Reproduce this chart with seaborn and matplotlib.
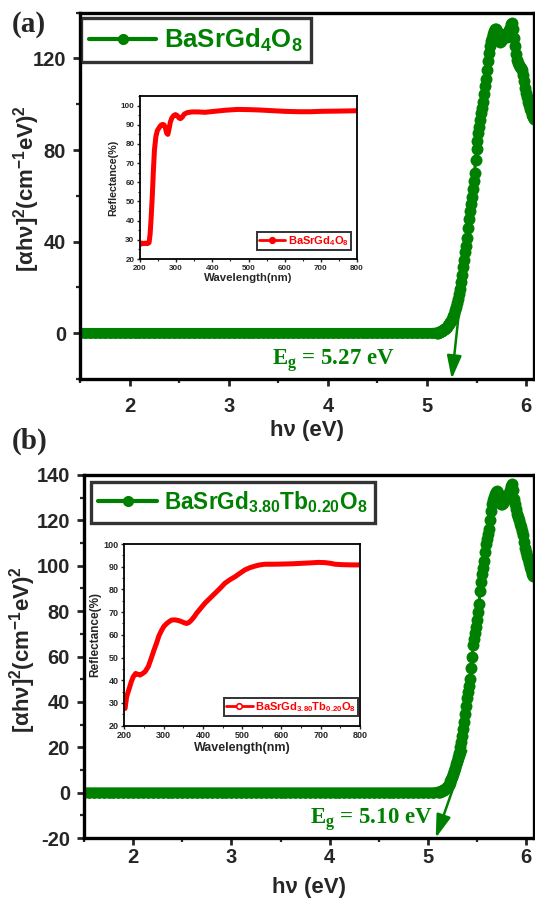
import matplotlib
matplotlib.use("Agg")
import matplotlib.pyplot as plt
from matplotlib.ticker import MultipleLocator
from matplotlib.lines import Line2D
import seaborn as sns
import pandas as pd

# ---------------- data ----------------
base_energy = [1.50, 1.55, 1.60, 1.65, 1.70, 1.75, 1.80, 1.85, 1.90, 1.95,
               2.00, 2.05, 2.10, 2.15, 2.20, 2.25, 2.30, 2.35, 2.40, 2.45,
               2.50, 2.55, 2.60, 2.65, 2.70, 2.75, 2.80, 2.85, 2.90, 2.95,
               3.00, 3.05, 3.10, 3.15, 3.20, 3.25, 3.30, 3.35, 3.40, 3.45,
               3.50, 3.55, 3.60, 3.65, 3.70, 3.75, 3.80, 3.85, 3.90, 3.95,
               4.00, 4.05, 4.10, 4.15, 4.20, 4.25, 4.30, 4.35, 4.40, 4.45,
               4.50, 4.55, 4.60, 4.65, 4.70, 4.75, 4.80, 4.85, 4.90, 4.95,
               5.00, 5.05, 5.10]
base_absorb = [0.0, 0.0, 0.0, 0.0, 0.0, 0.0, 0.0, 0.0, 0.0, 0.0,
               0.0, 0.0, 0.0, 0.0, 0.0, 0.0, 0.0, 0.0, 0.0, 0.0,
               0.0, 0.0, 0.0, 0.0, 0.0, 0.0, 0.0, 0.0, 0.0, 0.0,
               0.0, 0.0, 0.0, 0.0, 0.0, 0.0, 0.0, 0.0, 0.0, 0.0,
               0.0, 0.0, 0.0, 0.0, 0.0, 0.0, 0.0, 0.0, 0.0, 0.0,
               0.0, 0.0, 0.0, 0.0, 0.0, 0.0, 0.0, 0.0, 0.0, 0.0,
               0.0, 0.0, 0.0, 0.0, 0.0, 0.0, 0.0, 0.0, 0.0, 0.0,
               0.0, 0.0, 0.2]

rise_energy_a = [5.10, 5.11, 5.12, 5.13, 5.14, 5.15, 5.16, 5.17, 5.18, 5.19,
                 5.20, 5.21, 5.22, 5.23, 5.24, 5.25, 5.26, 5.27, 5.28, 5.29,
                 5.30, 5.31, 5.32, 5.33, 5.34, 5.35, 5.36, 5.37, 5.38, 5.39,
                 5.40, 5.41, 5.42, 5.43, 5.44, 5.45, 5.46, 5.47, 5.48, 5.49,
                 5.50, 5.51, 5.52, 5.53, 5.54, 5.55, 5.56, 5.57, 5.58, 5.59,
                 5.60, 5.61, 5.62, 5.63, 5.64, 5.65, 5.66, 5.67, 5.68, 5.69,
                 5.70, 5.71, 5.72, 5.73, 5.74, 5.75, 5.76, 5.77, 5.78, 5.79,
                 5.80, 5.81, 5.82, 5.83, 5.84, 5.85, 5.86, 5.87, 5.88, 5.89,
                 5.90, 5.91, 5.92, 5.93, 5.94, 5.95, 5.96, 5.97, 5.98, 5.99,
                 6.00, 6.01, 6.02, 6.03, 6.04, 6.05, 6.06, 6.07, 6.08]
rise_absorb_a = [0.2, 0.3, 0.5, 0.7, 0.9, 1.1, 1.4, 1.7, 2.0, 2.4,
                 2.9, 3.4, 4.0, 4.7, 5.5, 6.4, 7.4, 8.6, 10.0, 11.5,
                 13.2, 15.0, 17.0, 19.5, 22.5, 25.5, 29.0, 32.0, 35.5, 38.0,
                 41.5, 46.0, 50.0, 53.5, 56.5, 59.5, 63.0, 66.5, 70.0, 75.5,
                 80.5, 84.0, 87.5, 90.0, 93.0, 96.0, 98.5, 101.0, 104.5, 108.0,
                 111.0, 115.0, 119.0, 122.5, 125.5, 127.5, 129.0, 130.5, 132.0, 133.0,
                 133.0, 132.0, 129.5, 128.0, 127.0, 127.5, 128.5, 129.0, 130.0, 130.5,
                 130.0, 129.5, 131.0, 132.5, 133.5, 135.0, 135.5, 133.0, 129.0, 125.5,
                 122.0, 119.5, 118.0, 117.0, 116.5, 116.0, 115.0, 113.0, 110.0, 107.0,
                 105.0, 103.0, 101.0, 99.5, 98.0, 97.0, 95.5, 94.5, 93.5]

rise_energy_b = [5.10, 5.11, 5.12, 5.13, 5.14, 5.15, 5.16, 5.17, 5.18, 5.19,
                 5.20, 5.21, 5.22, 5.23, 5.24, 5.25, 5.26, 5.27, 5.28, 5.29,
                 5.30, 5.31, 5.32, 5.33, 5.34, 5.35, 5.36, 5.37, 5.38, 5.39,
                 5.40, 5.41, 5.42, 5.43, 5.44, 5.45, 5.46, 5.47, 5.48, 5.49,
                 5.50, 5.51, 5.52, 5.53, 5.54, 5.55, 5.56, 5.57, 5.58, 5.59,
                 5.60, 5.61, 5.62, 5.63, 5.64, 5.65, 5.66, 5.67, 5.68, 5.69,
                 5.70, 5.71, 5.72, 5.73, 5.74, 5.75, 5.76, 5.77, 5.78, 5.79,
                 5.80, 5.81, 5.82, 5.83, 5.84, 5.85, 5.86, 5.87, 5.88, 5.89,
                 5.90, 5.91, 5.92, 5.93, 5.94, 5.95, 5.96, 5.97, 5.98, 5.99,
                 6.00, 6.01, 6.02, 6.03, 6.04, 6.05, 6.06, 6.07]
rise_absorb_b = [0.2, 0.3, 0.4, 0.6, 0.8, 1.0, 1.3, 1.6, 2.0, 2.4,
                 2.9, 3.5, 4.2, 5.0, 6.0, 7.0, 8.2, 9.5, 11.0, 12.5,
                 14.0, 15.5, 17.5, 20.0, 22.5, 25.0, 28.0, 31.0, 34.5, 38.0,
                 41.5, 44.5, 47.0, 50.0, 55.0, 60.0, 65.0, 67.5, 70.5, 73.0,
                 76.0, 79.5, 83.0, 89.0, 93.0, 96.5, 99.0, 102.0, 106.0, 109.5,
                 112.0, 114.0, 116.0, 120.0, 124.0, 127.0, 129.0, 130.5, 131.5, 132.5,
                 133.0, 132.0, 130.0, 128.0, 127.0, 127.0, 127.5, 128.5, 129.5, 130.0,
                 130.5, 130.0, 131.0, 132.0, 133.5, 135.0, 136.0, 133.5, 129.5, 127.0,
                 125.0, 123.0, 121.5, 120.0, 118.5, 117.0, 115.5, 113.5, 110.5, 108.0,
                 106.0, 104.5, 103.0, 101.0, 99.5, 98.0, 96.5, 95.5]

wl_a = [200, 205, 210, 215, 220, 225, 228, 231, 234, 237, 240, 244, 248, 253,
        258, 263, 267, 270, 274, 277, 280, 284, 288, 293, 298, 303, 308, 312,
        317, 322, 330, 343, 360, 380, 400, 437, 470, 500, 531, 560, 600, 640,
        671, 700, 740, 770, 800]
refl_a = [27.5, 28.3, 28.0, 28.3, 28.0, 28.5, 33.0, 42.0, 53.0, 66.0, 77.0, 84.0,
          87.0, 88.5, 89.8, 90.2, 89.8, 88.5, 85.5, 85.0, 87.5, 91.5, 93.5, 94.8,
          95.3, 94.8, 93.5, 93.2, 94.0, 95.5, 96.3, 96.7, 96.7, 96.5, 96.9, 97.6,
          98.0, 97.9, 97.7, 97.4, 97.0, 96.8, 96.8, 97.0, 97.1, 97.2, 97.3]

wl_b = [202, 206, 210, 214, 218, 223, 229, 235, 240, 247, 253, 261, 270, 276,
        282, 288, 295, 301, 308, 314, 320, 327, 333, 340, 346, 353, 359, 365,
        371, 378, 384, 395, 405, 418, 431, 444, 456, 469, 482, 495, 507, 520,
        533, 545, 558, 580, 609, 630, 652, 675, 694, 711, 725, 736, 755, 779, 800]
refl_b = [27.6, 32.8, 35.0, 37.2, 39.5, 41.6, 43.0, 42.6, 42.3, 43.0, 43.8, 46.0,
          50.4, 53.5, 56.3, 59.5, 62.0, 63.8, 65.0, 65.8, 66.5, 66.6, 66.5, 66.2,
          65.8, 65.3, 65.0, 65.5, 66.5, 68.0, 69.5, 71.8, 73.9, 76.1, 78.3, 80.5,
          82.7, 84.3, 85.6, 87.2, 88.6, 89.6, 90.3, 90.8, 91.1, 91.1, 91.2, 91.3,
          91.5, 91.7, 91.9, 91.8, 91.5, 91.1, 90.9, 90.8, 90.8]

label_a = "BaSrGd$_4$O$_8$"
label_b = "BaSrGd$_{3.80}$Tb$_{0.20}$O$_8$"
gap_a = 5.27
gap_b = 5.10

# ---------------- style ----------------
sns.set_style("ticks")
plt.rcParams["font.family"] = ["Liberation Sans", "DejaVu Sans"]
plt.rcParams["font.weight"] = "bold"
plt.rcParams["mathtext.default"] = "regular"
plt.rcParams["axes.edgecolor"] = "black"
plt.rcParams["axes.unicode_minus"] = False

GREEN = "#008000"
RED = "#ff0000"
SERIF = ["Liberation Serif", "DejaVu Serif"]
YLABEL = "[\u03b1h\u03bd]$^2$(cm$^{-1}$eV)$^2$"

fig = plt.figure(figsize=(5.35, 8.98), dpi=100)


def main_panel(rect, base_e, base_a, rise_e, rise_a, label, leg_size,
               legend_anchor, gap, arrow_from, eg_pos, ytick_step, tick_pad_x,
               xlabel_pad, ylabel_x):
    ax = fig.add_axes(rect)
    df_base = pd.DataFrame({"E": base_e, "A": base_a})
    df_rise = pd.DataFrame({"E": rise_e, "A": rise_a})
    sns.lineplot(data=df_base, x="E", y="A", ax=ax, color=GREEN, lw=7.6,
                 marker="o", markersize=7.8, markeredgewidth=0,
                 solid_capstyle="round", legend=False)
    sns.lineplot(data=df_rise, x="E", y="A", ax=ax, color=GREEN, lw=2.2,
                 marker="o", markersize=8.6, markeredgewidth=0,
                 legend=False)
    ax.set_xlim(1.5, 6.08)
    ax.set_ylim(-20, 140)
    ax.xaxis.set_major_locator(MultipleLocator(1))
    ax.xaxis.set_minor_locator(MultipleLocator(0.5))
    ax.yaxis.set_major_locator(MultipleLocator(ytick_step))
    ax.yaxis.set_minor_locator(MultipleLocator(ytick_step / 2))
    for s in ax.spines.values():
        s.set_linewidth(2.4)
    ax.tick_params(which="major", direction="out", length=5, width=2,
                   labelsize=14.5, top=False, right=False)
    ax.tick_params(which="minor", direction="out", length=3, width=1.6,
                   top=False, right=False)
    ax.tick_params(axis="x", which="major", pad=tick_pad_x)
    ax.tick_params(axis="y", which="major", pad=5)
    for t in ax.get_xticklabels() + ax.get_yticklabels():
        t.set_fontweight("bold")
    ax.set_xlabel("h\u03bd (eV)", fontsize=16, fontweight="bold",
                  labelpad=xlabel_pad)
    ax.set_ylabel(YLABEL, fontsize=16, fontweight="bold")
    ax.yaxis.set_label_coords(ylabel_x, 0.52)
    handle = Line2D([], [], color=GREEN, lw=3, marker="o", markersize=8,
                    markeredgewidth=0)
    leg = ax.legend([handle], [label], loc="upper left",
                    bbox_to_anchor=legend_anchor, borderaxespad=0,
                    frameon=True, fancybox=False, edgecolor="black",
                    handlelength=2.6, handletextpad=0.3, borderpad=0.33,
                    prop={"size": leg_size, "weight": "bold",
                          "family": ["Liberation Sans"]})
    leg.get_frame().set_linewidth(2.4)
    leg.get_texts()[0].set_color(GREEN)
    ax.annotate("", xy=(gap - 0.02, -20), xytext=arrow_from,
                arrowprops=dict(arrowstyle="-|>,head_length=0.7,head_width=0.22",
                                color=GREEN, lw=1.8, mutation_scale=20,
                                shrinkA=0, shrinkB=0))
    ax.text(eg_pos[0], eg_pos[1], "E$_g$ = %.2f eV" % gap, color=GREEN,
            fontsize=16.5, fontweight="bold", family=SERIF,
            ha="center", va="center")
    return ax


def inset_panel(rect, wl, refl, label, ylim, ytick, fs_tick, fs_lab, anchor,
                open_marker):
    ax = fig.add_axes(rect)
    df = pd.DataFrame({"wl": wl, "R": refl})
    sns.lineplot(data=df, x="wl", y="R", ax=ax, color=RED, lw=3.6,
                 legend=False)
    ax.set_xlim(200, 800)
    ax.set_ylim(*ylim)
    ax.xaxis.set_major_locator(MultipleLocator(100))
    ax.xaxis.set_minor_locator(MultipleLocator(50))
    ax.yaxis.set_major_locator(MultipleLocator(ytick))
    ax.yaxis.set_minor_locator(MultipleLocator(ytick / 2))
    for s in ax.spines.values():
        s.set_linewidth(1.3)
    ax.tick_params(which="major", direction="out", length=2.5, width=1,
                   labelsize=fs_tick, pad=1.5, top=False, right=False)
    ax.tick_params(which="minor", direction="out", length=1.5, width=0.8,
                   top=False, right=False)
    for t in ax.get_xticklabels() + ax.get_yticklabels():
        t.set_fontweight("bold")
    ax.set_xlabel("Wavelength(nm)", fontsize=fs_lab + 0.5, fontweight="bold",
                  labelpad=1)
    ax.set_ylabel("Reflectance(%)", fontsize=fs_lab, fontweight="bold",
                  labelpad=2)
    handle = Line2D([], [], color=RED, lw=2, marker="o", markersize=4,
                    markerfacecolor="white" if open_marker else RED,
                    markeredgecolor=RED, markeredgewidth=1.2)
    leg = ax.legend([handle], [label], loc="lower right",
                    bbox_to_anchor=anchor, borderaxespad=0, frameon=True,
                    fancybox=False, edgecolor="black", handlelength=2.4,
                    handletextpad=0.2, borderpad=0.2,
                    prop={"size": 8, "weight": "bold",
                          "family": ["Liberation Sans"]})
    leg.get_frame().set_linewidth(1.4)
    leg.get_texts()[0].set_color(RED)
    return ax


main_panel([80 / 535, 1 - 379 / 898, 454 / 535, 366.3 / 898],
           base_energy, base_absorb, rise_energy_a, rise_absorb_a,
           label_a, 18.5, (0.002, 0.985), gap_a, (5.35, 20), (4.06, -12),
           40, 8, 3, -0.084)
main_panel([84 / 535, 1 - 838 / 898, 450 / 535, 363 / 898],
           base_energy, base_absorb, rise_energy_b, rise_absorb_b,
           label_b, 16.3, (0.0156, 0.981), gap_b, (5.39, 18.5), (4.42, -12),
           20, 2.5, 7, -0.103)

inset_panel([140 / 535, 1 - 259 / 898, 217 / 535, 163 / 898], wl_a, refl_a,
            label_a, (20, 105), 10, 5.8, 7.7, (0.972, 0.055), False)
inset_panel([124.3 / 535, 1 - 725.7 / 898, 235.7 / 535, 181.7 / 898], wl_b,
            refl_b, label_b, (20, 100), 10, 6.5, 8.5, (0.9915, 0.053), True)

fig.text(12 / 535, 1 - 24 / 898, "(a)", fontsize=21, fontweight="bold",
         family=SERIF, ha="left", va="center")
fig.text(12 / 535, 1 - 441 / 898, "(b)", fontsize=21, fontweight="bold",
         family=SERIF, ha="left", va="center")

fig.savefig("out.png", dpi=100)
